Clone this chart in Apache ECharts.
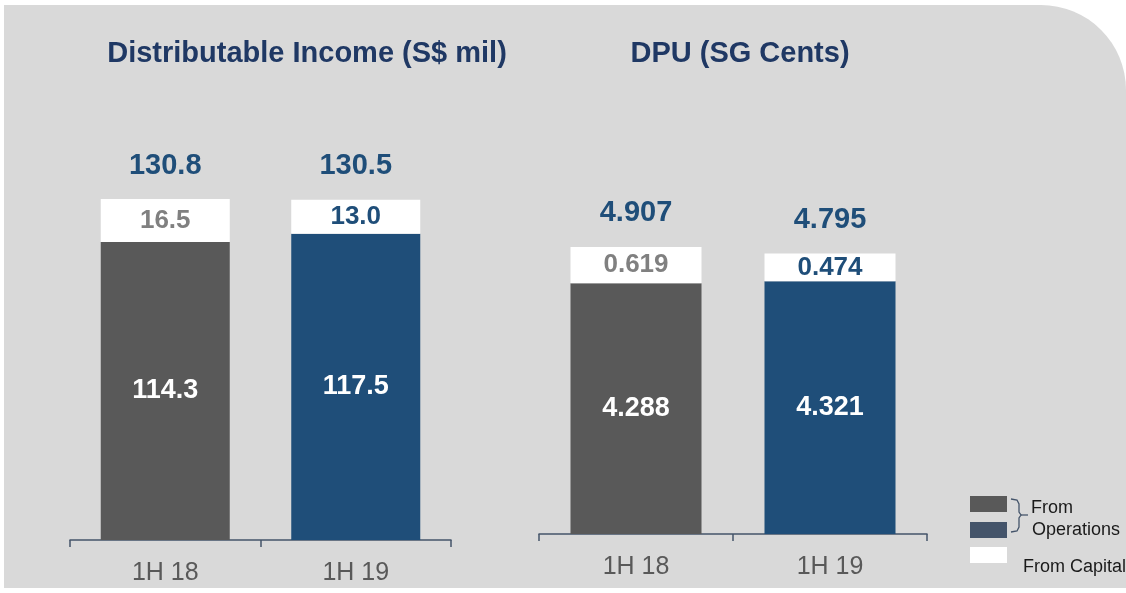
<!DOCTYPE html>
<html>
<head>
<meta charset="utf-8">
<script src="https://cdn.jsdelivr.net/npm/echarts@6/dist/echarts.min.js"></script>
<style>
  html, body { margin: 0; padding: 0; background: #fff; }
  #main { width: 1126px; height: 593px; }
</style>
</head>
<body>
<div id="main"></div>
<script>
// data
const categories = ['1H 18', '1H 19']
const incomeOps = [114.3, 117.5]
const incomeCapital = [16.5, 13.0]
const incomeTotal = [130.8, 130.5]
const dpuOps = [4.288, 4.321]
const dpuCapital = [0.619, 0.474]
const dpuTotal = [4.907, 4.795]

const barColors = ['#595959', '#1f4e79']
const capLabelColors = ['#808080', '#1f4e79']
const font = 'Liberation Sans, Arial, sans-serif'

let myChart = echarts.init(document.getElementById('main'))

// 运营部分 (grey / blue bars)
function opsSeries(idx, data, digits, width) {
  return {
    type: 'bar',
    xAxisIndex: idx,
    yAxisIndex: idx,
    stack: 's' + idx,
    barWidth: width,
    data: data.map((v, i) => ({
      value: v,
      itemStyle: { color: barColors[i] },
    })),
    label: {
      show: true,
      position: 'inside',
      color: '#fff',
      fontFamily: font,
      fontWeight: 'bold',
      fontSize: 27,
      formatter: p => p.value.toFixed(digits),
    },
  }
}

// 资本部分 (white bars)
function capSeries(idx, data, digits, width) {
  return {
    type: 'bar',
    xAxisIndex: idx,
    yAxisIndex: idx,
    stack: 's' + idx,
    barWidth: width,
    data: data.map((v, i) => ({
      value: v,
      itemStyle: { color: '#fff' },
      label: { color: capLabelColors[i] },
    })),
    label: {
      show: true,
      position: 'inside',
      fontFamily: font,
      fontWeight: 'bold',
      fontSize: 26,
      formatter: p => p.value.toFixed(digits),
    },
  }
}

// total labels above the bars
function totalSeries(idx, data, digits) {
  return {
    type: 'scatter',
    xAxisIndex: idx,
    yAxisIndex: idx,
    symbolSize: 0,
    itemStyle: { opacity: 1 },
    data: data,
    label: {
      show: true,
      position: 'top',
      distance: 19,
      color: '#1f4e79',
      fontFamily: font,
      fontWeight: 'bold',
      fontSize: 29,
      formatter: p => p.value.toFixed(digits),
    },
    z: 5,
  }
}

function xAxis(idx) {
  return {
    type: 'category',
    gridIndex: idx,
    data: categories,
    axisLine: { lineStyle: { color: '#44546a', width: 1.5 } },
    axisTick: { show: true, length: 7, lineStyle: { color: '#44546a', width: 1.5 } },
    axisLabel: { color: '#595959', fontFamily: font, fontSize: 25, margin: 21 },
  }
}

function yAxis(idx, max) {
  return {
    type: 'value',
    gridIndex: idx,
    min: 0,
    max: max,
    show: false,
    splitLine: { show: false },
  }
}

let configObject = {
  animation: false,
  grid: [
    { left: 70, width: 381, bottom: 53, height: 391 },
    { left: 539, width: 388, bottom: 59, height: 351 },
  ],
  xAxis: [xAxis(0), xAxis(1)],
  yAxis: [yAxis(0, 150), yAxis(1, 6)],
  series: [
    opsSeries(0, incomeOps, 1, 129),
    capSeries(0, incomeCapital, 1, 129),
    totalSeries(0, incomeTotal, 1),
    opsSeries(1, dpuOps, 3, 131),
    capSeries(1, dpuCapital, 3, 131),
    totalSeries(1, dpuTotal, 3),
  ],
  graphic: {
    elements: [
      {
        type: 'rect',
        z: -10,
        silent: true,
        shape: { x: 4, y: 5, width: 1122, height: 583, r: [0, 85, 0, 0] },
        style: { fill: '#d9d9d9' },
      },
      {
        type: 'text',
        x: 307, y: 54,
        style: {
          text: 'Distributable Income (S$ mil)',
          fill: '#1f3864', font: 'bold 29px ' + font,
          textAlign: 'center', textVerticalAlign: 'middle',
        },
      },
      {
        type: 'text',
        x: 740, y: 54,
        style: {
          text: 'DPU (SG Cents)',
          fill: '#1f3864', font: 'bold 29px ' + font,
          textAlign: 'center', textVerticalAlign: 'middle',
        },
      },
      // legend
      { type: 'rect', shape: { x: 970, y: 496, width: 37, height: 16 }, style: { fill: '#595959' } },
      { type: 'rect', shape: { x: 970, y: 522, width: 37, height: 16 }, style: { fill: '#44546a' } },
      { type: 'rect', shape: { x: 970, y: 547, width: 37, height: 16 }, style: { fill: '#fff' } },
      {
        type: 'polyline',
        shape: { points: [[1011, 499], [1017, 500], [1019, 504], [1019, 512], [1021, 515], [1019, 518], [1019, 527], [1017, 531], [1011, 532]] },
        style: { stroke: '#44546a', lineWidth: 1.3, fill: null },
      },
      { type: 'line', shape: { x1: 1021, y1: 515, x2: 1028, y2: 515 }, style: { stroke: '#44546a', lineWidth: 1.3 } },
      { type: 'text', x: 1031, y: 508, style: { text: 'From', fill: '#1a1a1a', font: '18px ' + font, textVerticalAlign: 'middle' } },
      { type: 'text', x: 1032, y: 530, style: { text: 'Operations', fill: '#1a1a1a', font: '18px ' + font, textVerticalAlign: 'middle' } },
      { type: 'text', x: 1023, y: 567, style: { text: 'From Capital', fill: '#1a1a1a', font: '18px ' + font, textVerticalAlign: 'middle' } },
    ],
  },
}
myChart.setOption(configObject)
</script>
</body>
</html>
